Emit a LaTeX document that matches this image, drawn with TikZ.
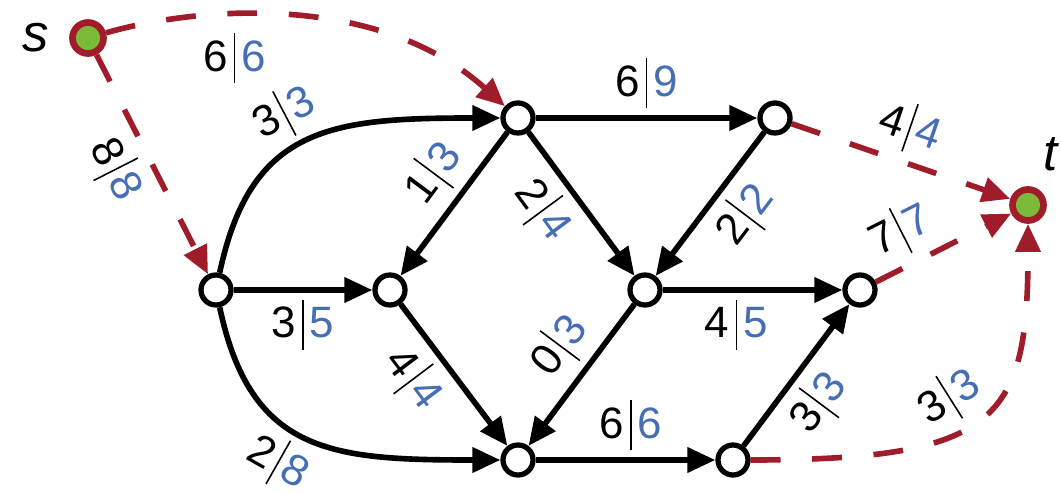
\documentclass[tikz,border=0pt]{standalone}
\usepackage{fontspec}
\setmainfont{Liberation Sans}
\usetikzlibrary{arrows.meta,positioning}

\definecolor{capblue}{RGB}{70,110,180}
\definecolor{pathred}{RGB}{160,28,42}
\definecolor{termgreen}{RGB}{124,187,58}

% flow | capacity label
\newcommand{\flow}[2]{#1\hspace{3.5pt}\rule[-6.6pt]{0.9pt}{28.3pt}\hspace{3.5pt}\textcolor{capblue}{#2}}

\begin{document}
\begin{tikzpicture}[
    vtx/.style={circle, draw, line width=3pt, fill=white, minimum size=0.6cm, inner sep=0pt},
    term/.style={circle, draw=pathred, line width=3.8pt, fill=termgreen, minimum size=0.62cm, inner sep=0pt},
    edge/.style={-{Triangle[length=16pt,width=14pt]}, line width=3.2pt},
    cut/.style={edge, pathred, dash pattern=on 17pt off 18pt},
    lab/.style={font=\fontsize{25}{28}\selectfont, text=black, inner sep=4pt}
]
    \useasboundingbox (0,0) rectangle (21.22,9.84);

    \node[term] (s) at (1.76,9.08) {};
    \node[term] (t) at (20.56,5.74) {};
    \node[vtx] (a) at (4.32,4.04) {};
    \node[vtx] (b) at (7.80,4.04) {};
    \node[vtx] (c) at (10.36,7.48) {};
    \node[vtx] (d) at (15.50,7.48) {};
    \node[vtx] (e) at (12.90,4.04) {};
    \node[vtx] (f) at (17.20,4.04) {};
    \node[vtx] (g) at (10.36,0.64) {};
    \node[vtx] (h) at (14.66,0.64) {};

    \node[left=0.4cm of s, inner sep=0pt, font=\fontsize{30}{32}\selectfont\itshape] (slab) {s};
    \node[above right=0.4cm and 0.04cm of t, inner sep=0pt, font=\fontsize{29}{32}\selectfont\itshape] (tlab) {t};

    % saturated edges
    \draw[cut] (s) to[out=16, in=138, out looseness=0.62, in looseness=1.07]
        node[lab, pos=0.36, below=5pt] {\flow{6}{6}} (c);
    \draw[cut] (s) -- node[lab, sloped, below, pos=0.45] {\flow{8}{8}} (a);
    \draw[cut] (d) -- node[lab, sloped, above, pos=0.49] {\flow{4}{4}} (t);
    \draw[cut] (f) -- node[lab, sloped, above, pos=0.3] {\flow{7}{7}} (t);
    \draw[cut] (h) to[out=0, in=-90, out looseness=1.75, in looseness=1.37]
        node[lab, sloped, above, pos=0.44] {\flow{3}{3}} (t);

    % other edges
    \draw[edge] (a) to[out=78, in=180, out looseness=1.2, in looseness=1.35]
        node[lab, sloped, above, pos=0.47] {\flow{3}{3}} (c);
    \draw[edge] (a) to[out=-78, in=180, out looseness=1.2, in looseness=1.35]
        node[lab, sloped, below, pos=0.45] {\flow{2}{8}} (g);
    \draw[edge] (a) -- node[lab, below] {\flow{3}{5}} (b);
    \draw[edge] (c) -- node[lab, above] {\flow{6}{9}} (d);
    \draw[edge] (e) -- node[lab, below, pos=0.41] {\flow{4}{5}} (f);
    \draw[edge] (g) -- node[lab, above, pos=0.53] {\flow{6}{6}} (h);
    \draw[edge] (c) -- node[lab, sloped, above, pos=0.43] {\flow{1}{3}} (b);
    \draw[edge] (c) -- node[lab, sloped, below, pos=0.40] {\flow{2}{4}} (e);
    \draw[edge] (d) -- node[lab, sloped, below, pos=0.43] {\flow{2}{2}} (e);
    \draw[edge] (b) -- node[lab, sloped, below, pos=0.38] {\flow{4}{4}} (g);
    \draw[edge] (e) -- node[lab, sloped, above, pos=0.44] {\flow{0}{3}} (g);
    \draw[edge] (h) -- node[lab, sloped, below, pos=0.45] {\flow{3}{3}} (f);
\end{tikzpicture}
\end{document}
